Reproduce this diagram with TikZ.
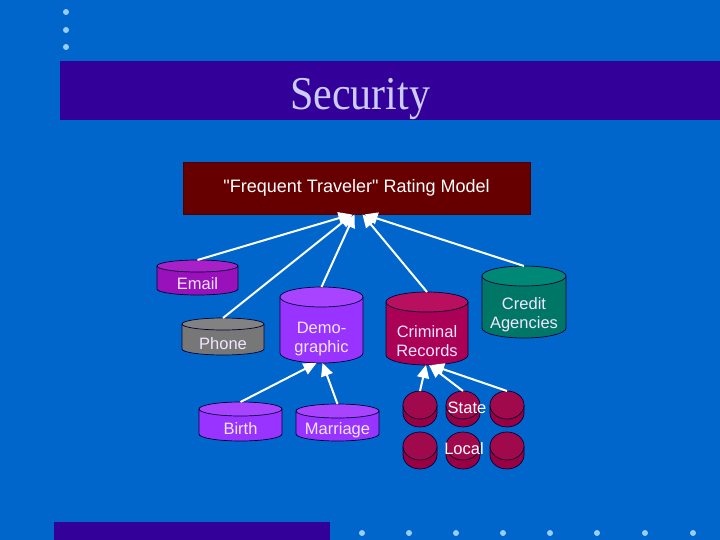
\documentclass[tikz,border=0pt]{standalone}
\usepackage{fontspec}
\setmainfont{Liberation Serif}
\setsansfont{Liberation Sans}[Ligatures=TeXOff]
\usetikzlibrary{arrows.meta}
\definecolor{bg}{HTML}{0066CC}
\definecolor{bar}{HTML}{330099}
\definecolor{dotc}{HTML}{99CCFF}
\definecolor{titlec}{HTML}{CCCCFF}
\definecolor{model}{HTML}{660000}
\definecolor{emailB}{HTML}{9911BB}\definecolor{emailT}{HTML}{A820C8}
\definecolor{phoneB}{HTML}{777777}\definecolor{phoneT}{HTML}{828282}
\definecolor{violB}{HTML}{9933FF}\definecolor{violT}{HTML}{A844FF}
\definecolor{crimB}{HTML}{AA0055}\definecolor{crimT}{HTML}{B8105E}
\definecolor{credB}{HTML}{007766}\definecolor{credT}{HTML}{008877}
\definecolor{smallB}{HTML}{990044}\definecolor{smallT}{HTML}{A00A4C}
\definecolor{lbl}{HTML}{F2E6FF}
% \cylinder{name}{cx}{ytop}{ybot}{rx}{ry}{body}{top}{unused}
\newcommand{\cylinder}[9]{%
  \fill[#7] ({#2-#5},#3) -- ({#2-#5},#4) arc (180:0:#5 and #6) -- ({#2+#5},#3) -- cycle;
  \draw[cylline] ({#2-#5},#3) -- ({#2-#5},#4) arc (180:0:#5 and #6) -- ({#2+#5},#3);
  \filldraw[cylline,fill=#8] (#2,#3) ellipse ({#5} and {#6});
  \coordinate (#1-top) at (#2,{#3-#6});
  \coordinate (#1-bot) at (#2,{#4+#6});
}
\begin{document}
\begin{tikzpicture}[x=1pt,y=-1pt,
  cylline/.style={draw=black!80!blue,line width=0.7pt},
  lab/.style={font=\sffamily\fontsize{16.5}{19}\selectfont,text=lbl,align=center,inner sep=0pt},
  arr/.style={draw=white,line width=2pt,-{Triangle[width=12pt,length=13pt]}},
  dot/.style={circle,fill=dotc,inner sep=0pt,minimum size=6pt}]
\fill[bg] (0,0) rectangle (720,540);
\useasboundingbox (0,0) rectangle (720,540);
% decorations
\foreach \y in {12,30,47} \node[dot] at (66,\y) {};
\fill[bar] (60,61) rectangle (720,120);
\fill[bar] (54,522) rectangle (330,540);
\foreach \x in {362,409,456,503,550,597,645,693} \node[dot] at (\x,533) {};
\node[text=titlec,font=\fontsize{42}{48}\selectfont,anchor=base] (title) at (360,110) {\scalebox{1}[1.12]{Security}};
% model box
\node[draw=black!70!red,line width=0.8pt,fill=model,minimum width=347pt,minimum height=52pt,
  font=\sffamily\fontsize{18}{21}\selectfont,text=white,inner sep=0pt] (model) at (356.5,188) {"Frequent Traveler" Rating Model};
% cylinders
\cylinder{email}{197.5}{266}{289}{40.5}{6}{emailB}{emailT}{}
\node[lab] (email) at (197.5,284) {Email};
\cylinder{phone}{223}{324}{349}{41}{6}{phoneB}{phoneT}{}
\node[lab] (phone) at (223,344) {Phone};
\cylinder{demo}{321.5}{297}{353}{41.5}{10}{violB}{violT}{}
\node[lab] (demo) at (321.5,339) {Demo-\\graphic};
\cylinder{crim}{427}{302}{355}{41}{10}{crimB}{crimT}{}
\node[lab] (crim) at (427,341) {Criminal\\Records};
\cylinder{cred}{524}{276}{328}{42}{10}{credB}{credT}{}
\node[lab] (cred) at (524,315) {Credit\\Agencies};
\cylinder{birth}{240.5}{409}{434}{41.5}{7}{violB}{violT}{}
\node[lab] (birth) at (240.5,429) {Birth};
\cylinder{marr}{337.5}{411}{434}{41.5}{7}{violB}{violT}{}
\node[lab] (marr) at (337.5,430) {Marriage};
% small cylinders
\cylinder{s1}{420}{405}{413}{17}{14}{smallB}{smallT}{}
\cylinder{s2}{463}{405}{413}{17}{14}{smallB}{smallT}{}
\cylinder{s3}{507}{405}{413}{17}{14}{smallB}{smallT}{}
\cylinder{l1}{420}{446}{455}{17}{14}{smallB}{smallT}{}
\cylinder{l2}{463}{446}{455}{17}{14}{smallB}{smallT}{}
\cylinder{l3}{507}{446}{455}{17}{14}{smallB}{smallT}{}
\node[lab,text=white] (state) at (467,408) {State};
\node[lab,text=white] (local) at (464,449) {Local};
% connectors to model
\draw[arr] (email-top) -- ([xshift=-5pt]model.south);
\draw[arr] (phone-top) -- ([xshift=-4pt]model.south);
\draw[arr] (demo-top) -- ([xshift=-2pt]model.south);
\draw[arr] (crim-top) -- ([xshift=6pt]model.south);
\draw[arr] (cred-top) -- ([xshift=8pt]model.south);
% connectors to demographic
\draw[arr] (birth-top) -- ([xshift=-5pt]demo-bot);
\draw[arr] (marr-top) -- ([xshift=1pt]demo-bot);
% connectors to criminal records
\draw[arr] (s1-top) -- ([xshift=-1pt]crim-bot);
\draw[arr] (s2-top) -- ([xshift=2pt]crim-bot);
\draw[arr] (s3-top) -- ([xshift=4pt]crim-bot);
\end{tikzpicture}
\end{document}
